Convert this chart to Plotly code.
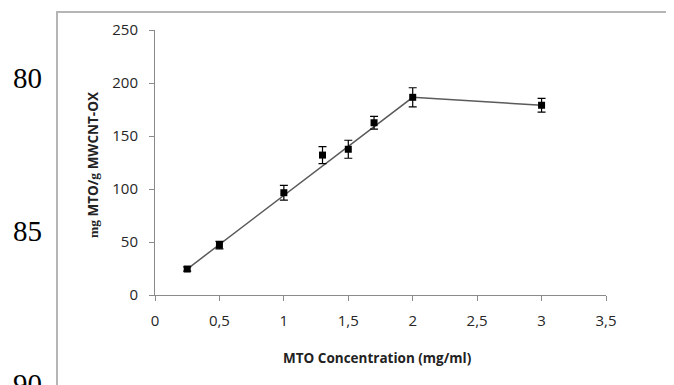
import plotly.graph_objects as go

# Data
conc = [0.25, 0.5, 1.0, 1.3, 1.5, 1.7, 2.0, 3.0]
uptake = [24.5, 47, 96.5, 132, 137.5, 162.5, 186.5, 179]
uptake_err = [2, 3.5, 7, 8, 8.5, 6, 9, 6.5]
# trend line drawn through the points
line_x = [0.25, 2.0, 3.0]
line_y = [24.5, 186.5, 179]

x_ticks = [0, 0.5, 1, 1.5, 2, 2.5, 3, 3.5]
x_labels = ["0", "0,5", "1", "1,5", "2", "2,5", "3", "3,5"]
y_ticks = [0, 50, 100, 150, 200, 250]
margin_numbers = ["80", "85", "90"]

OFF = 8  # page body margin offset
W, H = 674, 385
# target plot area in screen pixels: x 155..606, y 30..295
L = 155 - OFF
T = 30 - OFF
R = W - (606 - OFF)
B = H - (295 - OFF)
pw = W - L - R
ph = H - T - B

def px_to_paper_x(px):
    return (px - OFF - L) / pw

def px_to_paper_y(py):
    return (H - B - (py - OFF)) / ph

fig = go.Figure()
fig.add_trace(go.Scatter(
    x=line_x, y=line_y, mode="lines",
    line=dict(color="#5a5a5a", width=1.5),
    hoverinfo="skip", showlegend=False,
))
fig.add_trace(go.Scatter(
    x=conc, y=uptake, mode="markers",
    marker=dict(symbol="square", size=7, color="black"),
    error_y=dict(type="data", array=uptake_err, visible=True,
                 color="black", thickness=1.2, width=4),
    showlegend=False,
))

axis_common = dict(
    showgrid=False, zeroline=False, showline=True,
    linecolor="#8a8a8a", linewidth=1,
    ticks="outside", ticklen=5, tickcolor="#8a8a8a", tickwidth=1,
    tickfont=dict(family="Open Sans", size=15, color="#262626"),
)

fig.update_layout(
    width=W, height=H,
    margin=dict(l=L, r=R, t=T, b=B, autoexpand=False),
    paper_bgcolor="white", plot_bgcolor="white",
    xaxis=dict(range=[0, 3.5], tickvals=x_ticks, ticktext=x_labels,
               ticklabelstandoff=7, **axis_common),
    yaxis=dict(range=[0, 250], tickvals=y_ticks,
               ticklabelstandoff=8, **axis_common),
)

# outer frame of the embedded figure
fig.add_shape(type="rect", xref="paper", yref="paper",
              x0=px_to_paper_x(57), x1=px_to_paper_x(W + 30),
              y0=px_to_paper_y(H + 30), y1=px_to_paper_y(12),
              line=dict(color="#b5b5b5", width=2), layer="below")

# axis titles
fig.add_annotation(
    xref="paper", yref="paper",
    x=px_to_paper_x(377), y=px_to_paper_y(358),
    text="<b>MTO Concentration (mg/ml)</b>", showarrow=False,
    font=dict(family="Open Sans", size=13.5, color="#222222"),
    xanchor="center", yanchor="middle",
)
fig.add_annotation(
    xref="paper", yref="paper",
    x=px_to_paper_x(93), y=px_to_paper_y(165),
    text="<b><span style='font-family:Liberation Serif'>mg</span> MTO/<span style='font-family:Liberation Serif'>g</span> MWCNT-OX</b>",
    showarrow=False, textangle=-90,
    font=dict(family="Open Sans", size=13.5, color="#222222"),
    xanchor="center", yanchor="middle",
)

# manuscript line numbers
for txt, ypx in zip(margin_numbers, [78, 231, 384]):
    fig.add_annotation(
        xref="paper", yref="paper",
        x=px_to_paper_x(28), y=px_to_paper_y(ypx),
        text=txt, showarrow=False,
        font=dict(family="Liberation Serif", size=29, color="black"),
        xanchor="center", yanchor="middle",
    )

fig.write_html("out.html")
